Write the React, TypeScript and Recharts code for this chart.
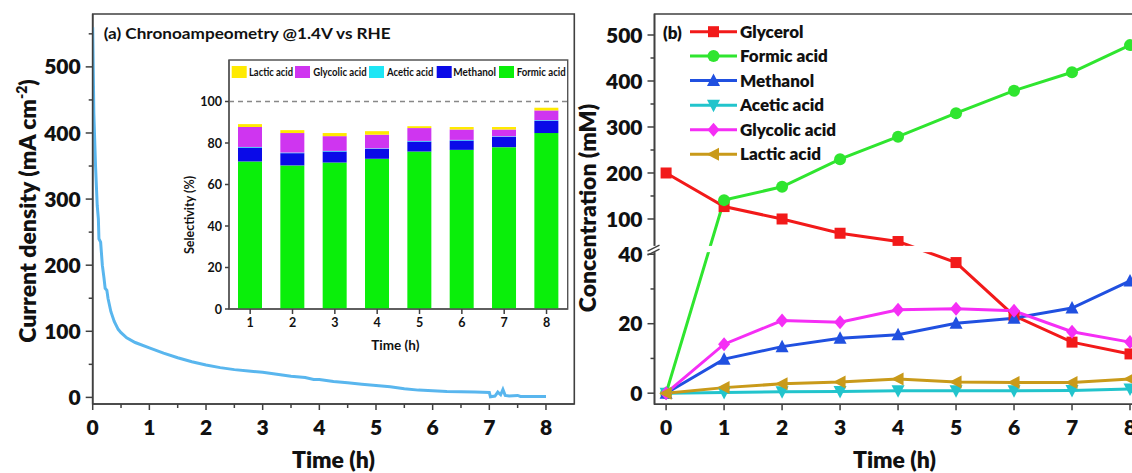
import React from 'react';
import {
  LineChart, Line, XAxis, YAxis, BarChart, Bar,
  ReferenceLine, ReferenceArea, Legend, Label,
} from 'recharts';

const FONT = 'Lato, "Open Sans", "DejaVu Sans", sans-serif';
const HEAVY = 800;
const AXIS = '#404040';
const TEXT = '#111111';

// ---------------- Panel (a): chronoamperometry ----------------
const caTime = [0, 0.02, 0.05, 0.08, 0.1, 0.11, 0.14, 0.17, 0.2, 0.22, 0.25, 0.27, 0.32, 0.38, 0.45, 0.5, 0.6, 0.75, 1.0, 1.25, 1.5, 1.75, 2.0, 2.25, 2.5, 2.75, 3.0, 3.25, 3.5, 3.75, 3.9, 4.0, 4.25, 4.5, 4.75, 5.0, 5.25, 5.5, 5.75, 6.0, 6.25, 6.5, 6.75, 7.0, 7.02, 7.1, 7.15, 7.2, 7.24, 7.28, 7.35, 7.5, 7.55, 7.75, 8.0];
const caCurrent = [560, 430, 350, 290, 270, 240, 235, 200, 180, 165, 162, 150, 130, 115, 103, 98, 90, 83, 75, 67, 60, 54, 49, 45, 42, 40, 38, 35, 32, 30, 27, 27, 24, 22, 20, 18, 16, 13, 11, 10, 9, 8.5, 8, 7.5, 1, 2, 8, 4, 12, 3, 2, 3, 1.5, 1.5, 1.5];
const caXTicks = [0, 0.5, 1, 1.5, 2, 2.5, 3, 3.5, 4, 4.5, 5, 5.5, 6, 6.5, 7, 7.5, 8];
const caYTicks = [0, 50, 100, 150, 200, 250, 300, 350, 400, 450, 500, 550];
const caXDomain = [0, 8.5];
const caYDomain = [-10, 580];

// ---------------- Inset: selectivity ----------------
const hours = ['1', '2', '3', '4', '5', '6', '7', '8'];
const selFormic = [71.1, 69.2, 70.6, 72.4, 75.9, 76.7, 78.0, 84.8];
const selMethanol = [6.7, 5.9, 5.3, 4.7, 4.8, 4.5, 4.9, 5.9];
const selAcetic = [0.3, 0.3, 0.3, 0.3, 0.3, 0.3, 0.3, 0.3];
const selGlycolic = [9.6, 9.4, 7.1, 6.6, 6.2, 5.0, 3.3, 4.7];
const selLactic = [1.4, 1.4, 1.5, 1.7, 0.9, 1.2, 1.2, 1.3];
const selTicks = [0, 20, 40, 60, 80, 100];
const selYDomain = [0, 120];

// ---------------- Panel (b): concentrations ----------------
const concTime = [0, 1, 2, 3, 4, 5, 6, 7, 8];
const glycerol = [200, 127, 100, 69, 51, 37.6, 22.3, 14.7, 11.3];
const formicAcid = [0, 141, 170, 230, 279, 330, 379, 419, 478];
const methanol = [0, 9.8, 13.4, 15.8, 16.8, 20.1, 21.6, 24.5, 32.3];
const aceticAcid = [0, 0.2, 0.4, 0.5, 0.7, 0.7, 0.7, 0.8, 1.2];
const glycolicAcid = [0, 14.1, 20.9, 20.4, 24.0, 24.3, 23.7, 17.7, 14.7];
const lacticAcid = [0, 1.6, 2.7, 3.2, 4.1, 3.2, 3.1, 3.1, 4.1];
const concMajorTicks = [0, 20, 40, 100, 200, 300, 400, 500];
const concMinorTicks = [10, 30, 150, 250, 350, 450];
const concXTicks = [0, 1, 2, 3, 4, 5, 6, 7, 8];
const concXDomain = [-0.2, 8.5];
const concYDomain = [-3.2, 109.15];

// broken axis: lower part 0-40 linear, upper part compressed
const BREAK_AT = 40;
const UPPER_START = 42.2;
const UPPER_RATIO = 0.1324;
const toAxis = (v: number) => (v <= BREAK_AT ? v : UPPER_START + (v - BREAK_AT) * UPPER_RATIO);
const fromAxis = (a: number) => (a <= BREAK_AT + 0.5 ? a : BREAK_AT + (a - UPPER_START) / UPPER_RATIO);

const C_GLY = '#f21a1a';
const C_FOR = '#2fe52f';
const C_MET = '#2050e0';
const C_ACE = '#22c4cc';
const C_GLC = '#f52ef5';
const C_LAC = '#c99a1a';

const B_FOR = '#0aef0a';
const B_MET = '#0a0ae8';
const B_ACE = '#1ee6f5';
const B_GLC = '#cf35f0';
const B_LAC = '#ffea00';

const caData = caTime.map((t, i) => ({ t, j: caCurrent[i] }));
const selData = hours.map((h, i) => ({
  h,
  formic: selFormic[i],
  methanol: selMethanol[i],
  acetic: selAcetic[i],
  glycolic: selGlycolic[i],
  lactic: selLactic[i],
}));

const concSeries = [
  { key: 'glycerol', name: 'Glycerol', values: glycerol, color: C_GLY, marker: 'square' },
  { key: 'formic', name: 'Formic acid', values: formicAcid, color: C_FOR, marker: 'circle' },
  { key: 'methanol', name: 'Methanol', values: methanol, color: C_MET, marker: 'up' },
  { key: 'acetic', name: 'Acetic acid', values: aceticAcid, color: C_ACE, marker: 'down' },
  { key: 'glycolic', name: 'Glycolic acid', values: glycolicAcid, color: C_GLC, marker: 'diamond' },
  { key: 'lactic', name: 'Lactic acid', values: lacticAcid, color: C_LAC, marker: 'left' },
];
const concData = concTime.map((t, i) => {
  const row: any = { t };
  concSeries.forEach((s) => { row[s.key] = toAxis(s.values[i]); });
  return row;
});
const concYTicks = [...concMajorTicks, ...concMinorTicks].sort((a, b) => a - b).map(toAxis);

function Marker({ kind, cx, cy, color, r = 5.5 }: any) {
  if (cx == null || cy == null || isNaN(cx) || isNaN(cy)) return null;
  switch (kind) {
    case 'square':
      return <rect x={cx - r} y={cy - r} width={2 * r} height={2 * r} fill={color} />;
    case 'circle':
      return <circle cx={cx} cy={cy} r={r + 0.5} fill={color} />;
    case 'up':
      return <polygon points={`${cx},${cy - r - 1.5} ${cx + r + 1},${cy + r} ${cx - r - 1},${cy + r}`} fill={color} />;
    case 'down':
      return <polygon points={`${cx},${cy + r + 1.5} ${cx + r + 1},${cy - r} ${cx - r - 1},${cy - r}`} fill={color} />;
    case 'diamond':
      return <polygon points={`${cx},${cy - r - 1.5} ${cx + r + 0.5},${cy} ${cx},${cy + r + 1.5} ${cx - r - 0.5},${cy}`} fill={color} />;
    case 'left':
      return <polygon points={`${cx - r - 1.5},${cy} ${cx + r},${cy - r - 1} ${cx + r},${cy + r + 1}`} fill={color} />;
    default:
      return null;
  }
}

function YTick(props: any) {
  const { x, y, payload, off, len, minorLen, isMajor, format, fontSize, weight } = props;
  const ax = x + off;
  const major = isMajor(payload.value);
  return (
    <g>
      <line x1={ax} y1={y} x2={ax - (major ? len : minorLen)} y2={y} stroke={AXIS} strokeWidth={1.5} />
      {major && (
        <text x={x} y={y} dy="0.36em" textAnchor="end" fontFamily={FONT} fontWeight={weight || 700} fontSize={fontSize} fill={TEXT}>
          {format(payload.value)}
        </text>
      )}
    </g>
  );
}

function XTick(props: any) {
  const { x, y, payload, off, len, minorLen, isMajor, format, fontSize, weight } = props;
  const ay = y - off;
  const major = isMajor(payload.value);
  return (
    <g>
      <line x1={x} y1={ay} x2={x} y2={ay + (major ? len : minorLen)} stroke={AXIS} strokeWidth={1.5} />
      {major && (
        <text x={x} y={y} dy="0.72em" textAnchor="middle" fontFamily={FONT} fontWeight={weight || 700} fontSize={fontSize} fill={TEXT}>
          {format(payload.value)}
        </text>
      )}
    </g>
  );
}

const axisLineStyle = { stroke: AXIS, strokeWidth: 1.6 };

function BreakShape(props: any) {
  const { x, y, width, height } = props;
  if (x == null || y == null) return null;
  const yc = y + height / 2;
  return (
    <g>
      <rect x={x - 8} y={y} width={width + 8} height={height} fill="#ffffff" />
      <line x1={x - 7} y1={yc + 2} x2={x + 5} y2={yc - 4} stroke={AXIS} strokeWidth={1.4} />
      <line x1={x - 7} y1={yc + 6} x2={x + 5} y2={yc} stroke={AXIS} strokeWidth={1.4} />
    </g>
  );
}

function ConcLegend() {
  const rows = [13.7, 37.9, 62.6, 87.2, 111.8, 136.3];
  return (
    <svg width={220} height={150} style={{ display: 'block', overflow: 'visible' }}>
      <text x={3} y={15} dy="0.36em" fontFamily={FONT} fontWeight={HEAVY} fontSize={17} fill={TEXT}>(b)</text>
      {concSeries.map((s, i) => (
        <g key={s.key}>
          <line x1={30} x2={77} y1={rows[i]} y2={rows[i]} stroke={s.color} strokeWidth={3} />
          <Marker kind={s.marker} cx={53.5} cy={rows[i]} color={s.color} />
          <text x={80} y={rows[i]} dy="0.36em" fontFamily={FONT} fontWeight={HEAVY} fontSize={17} fill={TEXT}>{s.name}</text>
        </g>
      ))}
    </svg>
  );
}

function SelLegend() {
  const items = [
    { name: 'Lactic acid', color: B_LAC, sq: 1.7, tx: 19, w: 44 },
    { name: 'Glycolic acid', color: B_GLC, sq: 65, tx: 83.3, w: 53.4 },
    { name: 'Acetic acid', color: B_ACE, sq: 139, tx: 157, w: 46.3 },
    { name: 'Methanol', color: B_MET, sq: 206.7, tx: 223.3, w: 42.7 },
    { name: 'Formic acid', color: B_FOR, sq: 269, tx: 286.7, w: 49 },
  ];
  return (
    <svg width={340} height={18} style={{ display: 'block', overflow: 'visible' }}>
      {items.map((it) => (
        <g key={it.name}>
          <rect x={it.sq} y={3} width={15} height={12} fill={it.color} />
          <text x={it.tx} y={9} dy="0.36em" fontFamily={FONT} fontWeight={700} fontSize={10.5} fill={TEXT}
            textLength={it.w} lengthAdjust="spacingAndGlyphs">{it.name}</text>
        </g>
      ))}
    </svg>
  );
}

export default function App() {
  return (
    <div style={{ position: 'absolute', left: 0, top: 0, width: 1132, height: 473, overflow: 'hidden', background: '#ffffff' }}>
      {/* Panel (a) */}
      <div style={{ position: 'absolute', left: 0, top: 0 }}>
        <LineChart width={580} height={473} data={caData} margin={{ top: 14, right: 5.7, bottom: 29, left: 0 }}>
          <ReferenceArea x1={caXDomain[0]} x2={caXDomain[1]} y1={caYDomain[0]} y2={caYDomain[1]}
            fill="none" stroke={AXIS} strokeWidth={1.6} fillOpacity={0}>
            <Label content={(p: any) => {
              const vb = p.viewBox || { x: 92.7, y: 14 };
              return (
                <text x={vb.x + 11} y={vb.y + 24.5} fontFamily={FONT} fontWeight={700} fontSize={16} fill={TEXT}
                  textLength={287} lengthAdjust="spacingAndGlyphs">
                  (a) Chronoampeometry @1.4V vs RHE
                </text>
              );
            }} />
          </ReferenceArea>
          <XAxis
            dataKey="t" type="number" domain={caXDomain} ticks={caXTicks} interval={0} allowDataOverflow
            height={40} tickSize={6} tickMargin={10} tickLine={false} axisLine={axisLineStyle}
            tick={(p: any) => (
              <XTick {...p} off={16} len={6} minorLen={4} fontSize={21} weight={HEAVY}
                isMajor={(v: number) => Number.isInteger(v)} format={(v: number) => String(v)} />
            )}
          >
            <Label content={(p: any) => {
              const vb = p.viewBox || { x: 92.7, y: 404, width: 481.6, height: 40 };
              return (
                <text x={vb.x + vb.width / 2} y={vb.y + 64} textAnchor="middle" fontFamily={FONT} fontWeight={HEAVY} fontSize={23} fill={TEXT}>
                  Time (h)
                </text>
              );
            }} />
          </XAxis>
          <YAxis
            type="number" domain={caYDomain} ticks={caYTicks} interval={0} allowDataOverflow
            width={92.7} tickSize={7} tickMargin={5} tickLine={false} axisLine={axisLineStyle}
            tick={(p: any) => (
              <YTick {...p} off={12} len={7} minorLen={4} fontSize={21} weight={HEAVY}
                isMajor={(v: number) => v % 100 === 0} format={(v: number) => String(v)} />
            )}
          >
            <Label content={(p: any) => {
              const vb = p.viewBox || { x: 0, y: 14, width: 92.7, height: 390 };
              const cx = vb.x + 28;
              const cy = vb.y + vb.height / 2 + 2;
              return (
                <text x={cx} y={cy} dy="0.36em" textAnchor="middle" transform={`rotate(-90 ${cx} ${cy})`}
                  fontFamily={FONT} fontWeight={HEAVY} fontSize={23} fill={TEXT}>
                  Current density (mA cm<tspan dy={-9} fontSize={14}>-2</tspan><tspan dy={9}>)</tspan>
                </text>
              );
            }} />
          </YAxis>
          <Line dataKey="j" type="linear" stroke="#59b6ee" strokeWidth={3} dot={false} isAnimationActive={false} />
        </LineChart>
      </div>

      {/* Inset */}
      <div style={{ position: 'absolute', left: 180, top: 55 }}>
        <BarChart width={400} height={310} data={selData} margin={{ top: 5, right: 12.3, bottom: 26, left: 0 }}>
          <ReferenceArea y1={selYDomain[0]} y2={selYDomain[1]} fill="none" fillOpacity={0} stroke="#555" strokeWidth={1.4} />
          <XAxis dataKey="h" height={30} tickSize={5} tickMargin={4} tickLine={false} interval={0}
            axisLine={{ stroke: '#555', strokeWidth: 1.4 }}
            tick={(p: any) => (
              <XTick {...p} off={9} len={5} minorLen={5} fontSize={12.5}
                isMajor={() => true} format={(v: any) => String(v)} />
            )}
          >
            <Label content={(p: any) => {
              const vb = p.viewBox || { x: 49, y: 254, width: 338.7, height: 30 };
              return (
                <text x={vb.x + vb.width / 2 - 3} y={vb.y + 40.5} textAnchor="middle" fontFamily={FONT} fontWeight={700} fontSize={13.5} fill={TEXT}>
                  Time (h)
                </text>
              );
            }} />
          </XAxis>
          <YAxis type="number" domain={selYDomain} ticks={selTicks} interval={0} width={49} tickSize={4} tickMargin={3}
            tickLine={false} axisLine={{ stroke: '#555', strokeWidth: 1.4 }}
            tick={(p: any) => (
              <YTick {...p} off={7} len={4} minorLen={4} fontSize={12.5}
                isMajor={() => true} format={(v: number) => String(v)} />
            )}
          >
            <Label content={(p: any) => {
              const vb = p.viewBox || { x: 0, y: 5, width: 49, height: 249 };
              const cx = vb.x + 9.5;
              const cy = vb.y + 155;
              return (
                <text x={cx} y={cy} dy="0.36em" textAnchor="middle" transform={`rotate(-90 ${cx} ${cy})`}
                  fontFamily={FONT} fontWeight={700} fontSize={12.5} fill={TEXT}>
                  Selectivity (%)
                </text>
              );
            }} />
          </YAxis>
          <ReferenceLine y={100} stroke="#888" strokeWidth={1.3} strokeDasharray="5 4" />
          <Bar dataKey="formic" stackId="s" fill={B_FOR} barSize={24} isAnimationActive={false} />
          <Bar dataKey="methanol" stackId="s" fill={B_MET} barSize={24} isAnimationActive={false} />
          <Bar dataKey="acetic" stackId="s" fill={B_ACE} barSize={24} isAnimationActive={false} />
          <Bar dataKey="glycolic" stackId="s" fill={B_GLC} barSize={24} isAnimationActive={false} />
          <Bar dataKey="lactic" stackId="s" fill={B_LAC} barSize={24} isAnimationActive={false} />
          <Legend layout="vertical" align="center" verticalAlign="middle"
            wrapperStyle={{ left: 50, top: 8, width: 340, height: 18 }}
            content={() => <SelLegend />} />
        </BarChart>
      </div>

      {/* Panel (b) */}
      <div style={{ position: 'absolute', left: 570, top: 0 }}>
        <LineChart width={610} height={473} data={concData} margin={{ top: 14, right: 21, bottom: 28.7, left: 0 }}>
          <ReferenceArea x1={concXDomain[0]} x2={concXDomain[1]} y1={concYDomain[0]} y2={concYDomain[1]}
            fill="none" fillOpacity={0} stroke={AXIS} strokeWidth={1.6} />
          <XAxis
            dataKey="t" type="number" domain={concXDomain} ticks={concXTicks} interval={0} allowDataOverflow
            height={40} tickSize={6} tickMargin={10} tickLine={false} axisLine={axisLineStyle}
            tick={(p: any) => (
              <XTick {...p} off={16} len={6} minorLen={6} fontSize={21} weight={HEAVY}
                isMajor={() => true} format={(v: number) => String(v)} />
            )}
          >
            <Label content={(p: any) => {
              const vb = p.viewBox || { x: 84.5, y: 404.3 };
              return (
                <text x={vb.x + 240} y={vb.y + 64} textAnchor="middle" fontFamily={FONT} fontWeight={HEAVY} fontSize={23} fill={TEXT}>
                  Time (h)
                </text>
              );
            }} />
          </XAxis>
          <YAxis
            type="number" domain={concYDomain} ticks={concYTicks} interval={0} allowDataOverflow
            width={84.5} tickSize={7} tickMargin={5} tickLine={false} axisLine={axisLineStyle}
            tick={(p: any) => (
              <YTick {...p} off={12} len={7} minorLen={4} fontSize={21} weight={HEAVY}
                isMajor={(v: number) => concMajorTicks.includes(Math.round(fromAxis(v)))}
                format={(v: number) => String(Math.round(fromAxis(v)))} />
            )}
          >
            <Label content={(p: any) => {
              const vb = p.viewBox || { x: 0, y: 14, width: 84.5, height: 390 };
              const cx = vb.x + 18;
              const cy = vb.y + 194;
              return (
                <text x={cx} y={cy} dy="0.36em" textAnchor="middle" transform={`rotate(-90 ${cx} ${cy})`}
                  fontFamily={FONT} fontWeight={HEAVY} fontSize={23} fill={TEXT}>
                  Concentration (mM)
                </text>
              );
            }} />
          </YAxis>
          {concSeries.map((s) => (
            <Line key={s.key} dataKey={s.key} name={s.name} type="linear" stroke={s.color} strokeWidth={3}
              isAnimationActive={false}
              dot={(p: any) => <Marker key={`${s.key}-${p.index}`} kind={s.marker} cx={p.cx} cy={p.cy} color={s.color} />} />
          ))}
          <ReferenceArea y1={40.6} y2={42.4} ifOverflow="visible" zIndex={1500} shape={(p: any) => <BreakShape {...p} />} />
          <Legend layout="vertical" align="center" verticalAlign="middle"
            wrapperStyle={{ left: 90, top: 18, width: 220, height: 150 }}
            content={() => <ConcLegend />} />
        </LineChart>
      </div>
    </div>
  );
}
